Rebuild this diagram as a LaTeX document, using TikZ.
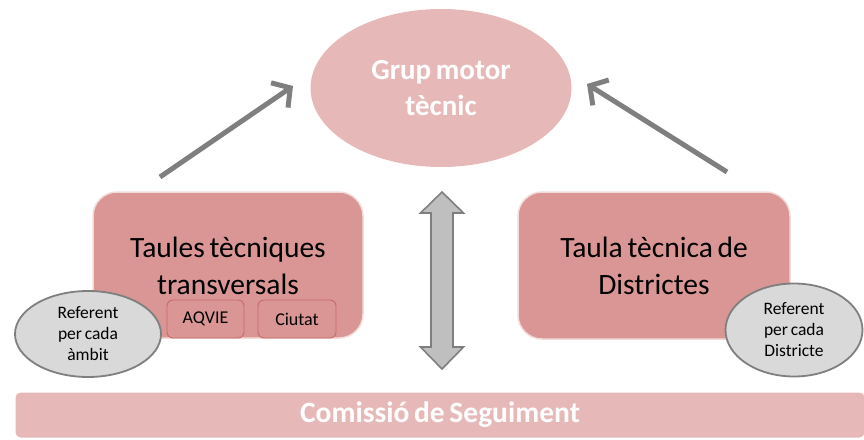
\documentclass[tikz,border=0pt]{standalone}
\usepackage{fontspec}
\setmainfont[WordSpace=0.7]{Carlito}
\usetikzlibrary{arrows.meta,shapes.geometric}
\definecolor{pinklight}{HTML}{E6B9B8}
\definecolor{pinkbox}{HTML}{D99694}
\definecolor{pinkedge}{HTML}{F2DCDB}
\definecolor{redline}{HTML}{C0504D}
\definecolor{greyfill}{HTML}{D9D9D9}
\definecolor{greyarrow}{HTML}{BFBFBF}
\definecolor{greyline}{HTML}{7F7F7F}
\tikzset{
  mainbox/.style={draw=pinkedge, line width=1.5pt, fill=pinkbox, rounded corners=24pt, align=center,
     font=\fontsize{29.5}{37}\selectfont, text=black},
  subbox/.style={draw=redline!85, line width=0.9pt, fill=pinkbox, rounded corners=6pt,
     font=\fontsize{18}{21}\selectfont, text=black, inner sep=0pt},
  refell/.style={ellipse, draw=greyline, line width=1.8pt, fill=greyfill, inner sep=0pt, align=center,
     font=\fontsize{17.5}{21}\selectfont, text=black},
  flowarrow/.style={draw=greyline, line width=5pt, -{Straight Barb[length=13pt,width=30pt,line width=5pt]}},
}
\begin{document}
\begin{tikzpicture}[x=1pt,y=-1pt]
\useasboundingbox (0,0) rectangle (864,439);
% top ellipse
\node[ellipse, fill=pinklight, minimum width=261pt, minimum height=158pt, inner sep=0pt, align=center,
  text=white, font=\bfseries\fontsize{29}{36}\selectfont] (gm) at (441,88) {Grup motor\\tècnic};
% main boxes
\node[mainbox, minimum width=270pt, minimum height=146pt, inner sep=0pt] (ttt) at (228,265) {};
\node[align=center, font=\fontsize{29.5}{37}\selectfont] (ttttext) at (228,266) {Taules tècniques\\transversals};
\node[subbox, minimum width=77pt, minimum height=38pt] (aqvie) at (205.5,319) {AQVIE};
\node[subbox, minimum width=78pt, minimum height=38pt] (ciutat) at (297,319) {Ciutat};
\node[mainbox, minimum width=272pt, minimum height=147pt, inner sep=0pt] (ttd) at (654,265.5) {Taula tècnica de\\Districtes};
% referent ellipses
\node[refell, minimum width=146pt, minimum height=86pt] (refa) at (88,334) {Referent\\per cada\\àmbit};
\node[refell, minimum width=137pt, minimum height=93pt] (refd) at (794,330) {Referent\\per cada\\Districte};
% bottom bar
\node[fill=pinklight, rounded corners=5pt, minimum width=849pt, minimum height=45pt, inner sep=0pt,
  text=white, font=\bfseries\fontsize{29.5}{34}\selectfont] (cs) at (440,415) {Comissió de Seguiment};
% arrows
\coordinate (la) at (160,177);
\coordinate (lt) at (293,86);
\coordinate (ra) at (727,172);
\coordinate (rt) at (587,84);
\draw[flowarrow] (la) -- (lt);
\draw[flowarrow] (ra) -- (rt);
% double arrow
\coordinate (dt) at (442,192);
\coordinate (db) at (442,369);
\draw[draw=greyline, line width=1.6pt, fill=greyarrow, line join=miter]
  (dt) -- ++(21.5,21) -- ++(-10.5,0) -- ++(0,134) -- ++(10.5,0) -- (db) -- ++(-21.5,-22) -- ++(10.5,0)
  -- ++(0,-134) -- ++(-10.5,0) -- cycle;
\end{tikzpicture}
\end{document}
